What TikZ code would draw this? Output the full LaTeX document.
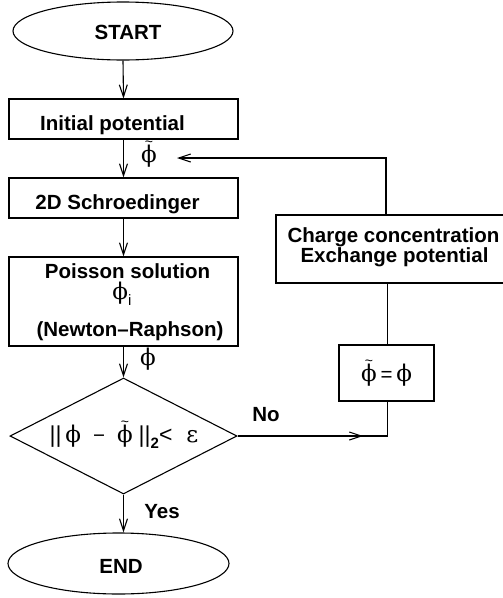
\documentclass[tikz,border=0pt]{standalone}
\usepackage{fontspec}
\setmainfont{Liberation Sans}
\newfontfamily\grk{DejaVu Serif}
\usetikzlibrary{shapes.geometric,arrows.meta}
\newcommand{\ph}{{\grk ϕ}}
\newcommand{\tph}{\hbox{\ooalign{{\grk ϕ}\cr\hidewidth\raisebox{15.5pt}{\fontsize{14}{14}\selectfont\textasciitilde}\hidewidth\cr}}}
\begin{document}
\begin{tikzpicture}[x=1pt,y=-1pt,
  line width=1.1pt,
  every node/.style={inner sep=0pt},
  shapebox/.style={draw,rectangle,minimum height=#1},
  oval/.style={draw,ellipse},
  lbl/.style={anchor=base,font=\fontsize{20.5}{23}\selectfont\bfseries},
  sym/.style={font=\fontsize{23}{25}\selectfont},
  arr/.style={-{Straight Barb[length=12pt,width=8pt]}}
]
\useasboundingbox (0,0) rectangle (503,598);
\clip (0,0) rectangle (503,598);
% shapes
\node[oval,minimum width=220pt,minimum height=58pt] (start) at (123,31) {};
\node[shapebox=40pt,minimum width=229pt] (init) at (123.5,119) {};
\node[shapebox=40pt,minimum width=229pt] (schr) at (123.5,198) {};
\node[shapebox=89pt,minimum width=229pt] (pois) at (123.5,301.5) {};
\node[draw,diamond,minimum width=227pt,minimum height=116pt] (dec) at (123.5,436) {};
\node[oval,minimum width=221pt,minimum height=61pt] (endn) at (118.5,563.5) {};
\node[shapebox=68pt,minimum width=235pt] (charge) at (393.5,249) {};
\node[shapebox=56pt,minimum width=95pt] (eq) at (386.5,373) {};
% texts
\node[lbl] (tstart) at (128,39) {START};
\node[lbl] (tinit) at (112.5,130) {Initial potential};
\node[lbl] (tschr) at (117.5,209) {2D Schroedinger};
\node[lbl] (tpois) at (127.5,278) {Poisson solution};
\node[sym,anchor=base] (tphi) at (122,299) {\ph\raisebox{-0.3em}{\fontsize{15}{16}\selectfont i}};
\node[lbl] (tnr) at (130,336) {(Newton–Raphson)};
\node[lbl] (tc1) at (393.5,242) {Charge concentration};
\node[lbl] (tc2) at (394.5,262) {Exchange potential};
\node[sym,anchor=base] (teq) at (386.5,381) {\tph\,{\fontsize{20.5}{23}\selectfont=}\,\ph};
\node[sym,anchor=base] (tdec) at (124,442) {||\,\ph\hspace{12pt}{\fontsize{20.5}{23}\selectfont −}\hspace{12pt}\tph\hspace{6pt}||\raisebox{-0.3em}{\fontsize{15}{16}\selectfont\bfseries 2}<\hspace{14pt}{\grk ε}};
\node[sym,anchor=base] (tfb) at (149,162) {\tph};
\node[sym,anchor=base] (tph2) at (148,365) {\ph};
\node[lbl] (tyes) at (162,518) {Yes};
\node[lbl] (tno) at (266,421) {No};
\node[lbl] (tend) at (121,573) {END};
% connectors
\draw[arr] (start.south) -- (init.north);
\draw[arr] (init.south) -- (schr.north);
\draw[arr] (schr.south) -- (pois.north);
\draw[arr] (pois.south) -- (dec.north);
\draw[arr] (dec.south) -- (dec.south |- endn.north);
\coordinate (fbtop) at (386,158);
\coordinate (fbend) at (177,158);
\draw[arr] (charge.north -| fbtop) -- (fbtop) -- (fbend);
\coordinate (lowx) at (387.5,0);
\draw (charge.south -| lowx) -- (eq.north -| lowx);
\coordinate (corner) at (387.5,436);
\coordinate (notip) at (363,436);
\draw (eq.south -| corner) -- (corner) -- (dec.east);
\draw[arr] (dec.east) -- (notip);
\end{tikzpicture}
\end{document}
